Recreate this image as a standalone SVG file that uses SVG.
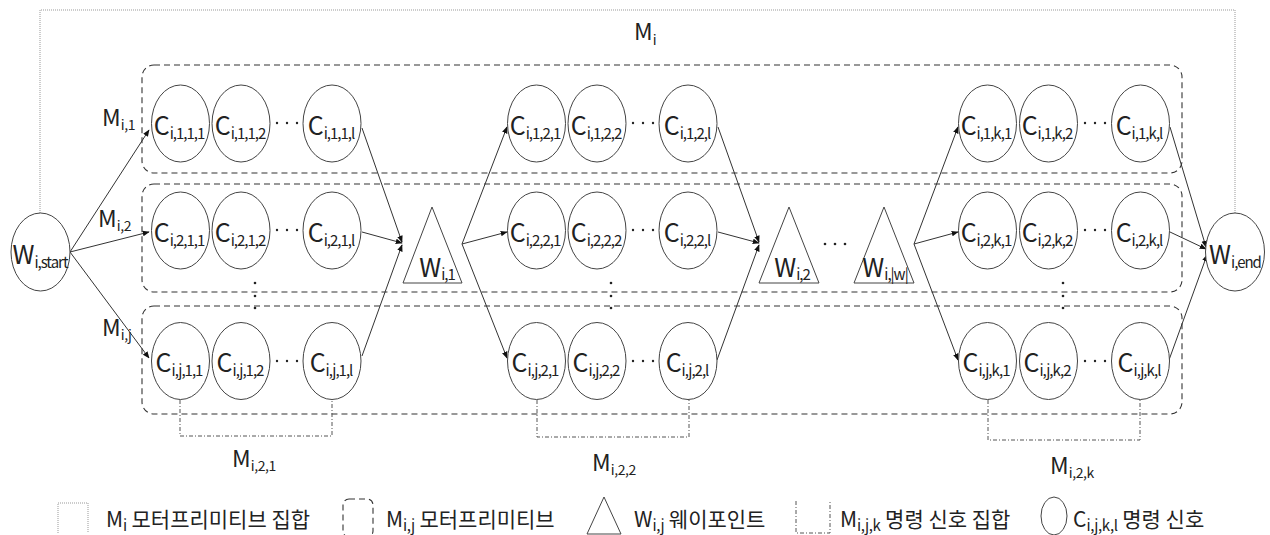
<svg xmlns="http://www.w3.org/2000/svg" width="1270" height="535" viewBox="0 0 1270 535">
<style>
.t{font-family:"Noto Sans CJK KR","Noto Sans",sans-serif;fill:#222}
.c{font-size:25px}
.s{font-size:15px;letter-spacing:-1px}
.m{font-size:23px}
.ms{font-size:14px;letter-spacing:-0.4px}
.k{font-size:21px}
.ks{font-size:15px;letter-spacing:-0.4px}
.node ellipse,.node polygon{fill:#fff;stroke:#444;stroke-width:1}
.box{fill:none;stroke:#333;stroke-width:1.1;stroke-dasharray:6 4}
.outer{fill:none;stroke:#999;stroke-width:1;stroke-dasharray:1 1}
.dd{fill:none;stroke:#555;stroke-width:1;stroke-dasharray:4 2 1 2}
.edge{stroke:#333;stroke-width:1;fill:none;marker-end:url(#ah)}
.dot{fill:#222}
</style>
<defs>
<marker id="ah" viewBox="0 0 10 10" refX="9" refY="5" markerWidth="7" markerHeight="7" markerUnits="userSpaceOnUse" orient="auto">
<path d="M0,1 L10,5 L0,9 z" fill="#111"/>
</marker>
</defs>
<rect width="1270" height="535" fill="#fff"/>

<!-- outer M_i -->
<g id="Mi">
<path class="outer" d="M40,213 V10 H1235 V213"/>
<text class="t m" x="634" y="40">M<tspan class="ms" dy="5">i</tspan></text>
</g>

<!-- M_i,j boxes -->
<g id="boxes">
<rect class="box" x="142" y="65" width="1040" height="108" rx="12"/>
<rect class="box" x="142" y="184" width="1040" height="108" rx="12"/>
<rect class="box" x="142" y="306" width="1040" height="108" rx="12"/>
</g>

<!-- connectors -->
<g id="connectors">
<line class="edge" x1="70" y1="252" x2="149" y2="130"/>
<line class="edge" x1="70" y1="252" x2="149" y2="232"/>
<line class="edge" x1="70" y1="252" x2="149" y2="358"/>
<line class="edge" x1="362" y1="128" x2="402" y2="242"/>
<line class="edge" x1="362" y1="232" x2="402" y2="243"/>
<line class="edge" x1="362" y1="356" x2="402" y2="245"/>
<line class="edge" x1="462" y1="244" x2="507" y2="127"/>
<line class="edge" x1="462" y1="244" x2="507" y2="232"/>
<line class="edge" x1="462" y1="244" x2="507" y2="358"/>
<line class="edge" x1="718" y1="127" x2="759" y2="242"/>
<line class="edge" x1="718" y1="232" x2="759" y2="243"/>
<line class="edge" x1="717" y1="360" x2="759" y2="245"/>
<line class="edge" x1="914" y1="244" x2="958" y2="127"/>
<line class="edge" x1="914" y1="244" x2="958" y2="232"/>
<line class="edge" x1="914" y1="244" x2="958" y2="360"/>
<line class="edge" x1="1170" y1="127" x2="1206" y2="247"/>
<line class="edge" x1="1170" y1="232" x2="1206" y2="249"/>
<line class="edge" x1="1169" y1="360" x2="1207" y2="255"/>
</g>

<!-- waypoints -->
<g id="W_start" class="node">
<ellipse cx="40.5" cy="252" rx="29.5" ry="39"/>
<text class="t c" x="40" y="264" text-anchor="middle">W<tspan class="s" dy="4">i,start</tspan></text>
</g>
<g id="W_end" class="node">
<ellipse cx="1235" cy="252" rx="29.5" ry="39"/>
<text class="t c" x="1235" y="264" text-anchor="middle">W<tspan class="s" dy="4">i,end</tspan></text>
</g>
<g id="W_1" class="node">
<polygon points="432,207 462,283 403,283"/>
<text class="t c" x="437" y="277" text-anchor="middle">W<tspan class="s" dy="3">i,1</tspan></text>
</g>
<g id="W_2" class="node">
<polygon points="789,207 819,283 759,283"/>
<text class="t c" x="792" y="277" text-anchor="middle">W<tspan class="s" dy="3">i,2</tspan></text>
</g>
<g id="W_w" class="node">
<polygon points="884,207 914,283 854,283"/>
<text class="t c" x="885" y="277" text-anchor="middle">W<tspan class="s" dy="3">i,|w|</tspan></text>
</g>
<g id="wdots">
<circle class="dot" cx="825" cy="244" r="1.3"/>
<circle class="dot" cx="835" cy="244" r="1.3"/>
<circle class="dot" cx="845" cy="244" r="1.3"/>
</g>

<!-- group 1 -->
<g id="C_i11_1" class="node"><ellipse cx="180.5" cy="123.5" rx="29" ry="38.5"/><text class="t c" x="179" y="135" text-anchor="middle">C<tspan class="s" dy="4">i,1,1,1</tspan></text></g>
<g id="C_i11_2" class="node"><ellipse cx="241" cy="123.5" rx="29" ry="38.5"/><text class="t c" x="240" y="135" text-anchor="middle">C<tspan class="s" dy="4">i,1,1,2</tspan></text></g>
<g id="C_i11_l" class="node"><ellipse cx="332" cy="123.5" rx="29" ry="38.5"/><text class="t c" x="331" y="135" text-anchor="middle">C<tspan class="s" dy="4">i,1,1,l</tspan></text></g>
<g id="C_i21_1" class="node"><ellipse cx="180.5" cy="230.5" rx="29" ry="38.5"/><text class="t c" x="179" y="242" text-anchor="middle">C<tspan class="s" dy="4">i,2,1,1</tspan></text></g>
<g id="C_i21_2" class="node"><ellipse cx="241" cy="230.5" rx="29" ry="38.5"/><text class="t c" x="240" y="242" text-anchor="middle">C<tspan class="s" dy="4">i,2,1,2</tspan></text></g>
<g id="C_i21_l" class="node"><ellipse cx="332" cy="230.5" rx="29" ry="38.5"/><text class="t c" x="331" y="242" text-anchor="middle">C<tspan class="s" dy="4">i,2,1,l</tspan></text></g>
<g id="C_ij1_1" class="node"><ellipse cx="180.5" cy="361" rx="29" ry="38.5"/><text class="t c" x="179" y="372" text-anchor="middle">C<tspan class="s" dy="4">i,j,1,1</tspan></text></g>
<g id="C_ij1_2" class="node"><ellipse cx="241" cy="361" rx="29" ry="38.5"/><text class="t c" x="240" y="372" text-anchor="middle">C<tspan class="s" dy="4">i,j,1,2</tspan></text></g>
<g id="C_ij1_l" class="node"><ellipse cx="332" cy="361" rx="29" ry="38.5"/><text class="t c" x="331" y="372" text-anchor="middle">C<tspan class="s" dy="4">i,j,1,l</tspan></text></g>

<!-- group 2 -->
<g id="C_i12_1" class="node"><ellipse cx="536.5" cy="123.5" rx="29" ry="38.5"/><text class="t c" x="535" y="135" text-anchor="middle">C<tspan class="s" dy="4">i,1,2,1</tspan></text></g>
<g id="C_i12_2" class="node"><ellipse cx="597" cy="123.5" rx="29" ry="38.5"/><text class="t c" x="596" y="135" text-anchor="middle">C<tspan class="s" dy="4">i,1,2,2</tspan></text></g>
<g id="C_i12_l" class="node"><ellipse cx="688" cy="123.5" rx="29" ry="38.5"/><text class="t c" x="687" y="135" text-anchor="middle">C<tspan class="s" dy="4">i,1,2,l</tspan></text></g>
<g id="C_i22_1" class="node"><ellipse cx="536.5" cy="230.5" rx="29" ry="38.5"/><text class="t c" x="535" y="242" text-anchor="middle">C<tspan class="s" dy="4">i,2,2,1</tspan></text></g>
<g id="C_i22_2" class="node"><ellipse cx="597" cy="230.5" rx="29" ry="38.5"/><text class="t c" x="596" y="242" text-anchor="middle">C<tspan class="s" dy="4">i,2,2,2</tspan></text></g>
<g id="C_i22_l" class="node"><ellipse cx="688" cy="230.5" rx="29" ry="38.5"/><text class="t c" x="687" y="242" text-anchor="middle">C<tspan class="s" dy="4">i,2,2,l</tspan></text></g>
<g id="C_ij2_1" class="node"><ellipse cx="536.5" cy="361" rx="29" ry="38.5"/><text class="t c" x="535" y="372" text-anchor="middle">C<tspan class="s" dy="4">i,j,2,1</tspan></text></g>
<g id="C_ij2_2" class="node"><ellipse cx="597" cy="361" rx="29" ry="38.5"/><text class="t c" x="596" y="372" text-anchor="middle">C<tspan class="s" dy="4">i,j,2,2</tspan></text></g>
<g id="C_ij2_l" class="node"><ellipse cx="688" cy="361" rx="29" ry="38.5"/><text class="t c" x="687" y="372" text-anchor="middle">C<tspan class="s" dy="4">i,j,2,l</tspan></text></g>

<!-- group 3 -->
<g id="C_i1k_1" class="node"><ellipse cx="987.5" cy="123.5" rx="29" ry="38.5"/><text class="t c" x="986" y="135" text-anchor="middle">C<tspan class="s" dy="4">i,1,k,1</tspan></text></g>
<g id="C_i1k_2" class="node"><ellipse cx="1048.5" cy="123.5" rx="29" ry="38.5"/><text class="t c" x="1047" y="135" text-anchor="middle">C<tspan class="s" dy="4">i,1,k,2</tspan></text></g>
<g id="C_i1k_l" class="node"><ellipse cx="1140.5" cy="123.5" rx="29" ry="38.5"/><text class="t c" x="1139" y="135" text-anchor="middle">C<tspan class="s" dy="4">i,1,k,l</tspan></text></g>
<g id="C_i2k_1" class="node"><ellipse cx="987.5" cy="230.5" rx="29" ry="38.5"/><text class="t c" x="986" y="242" text-anchor="middle">C<tspan class="s" dy="4">i,2,k,1</tspan></text></g>
<g id="C_i2k_2" class="node"><ellipse cx="1048.5" cy="230.5" rx="29" ry="38.5"/><text class="t c" x="1047" y="242" text-anchor="middle">C<tspan class="s" dy="4">i,2,k,2</tspan></text></g>
<g id="C_i2k_l" class="node"><ellipse cx="1140.5" cy="230.5" rx="29" ry="38.5"/><text class="t c" x="1139" y="242" text-anchor="middle">C<tspan class="s" dy="4">i,2,k,l</tspan></text></g>
<g id="C_ijk_1" class="node"><ellipse cx="987.5" cy="361" rx="29" ry="38.5"/><text class="t c" x="986" y="372" text-anchor="middle">C<tspan class="s" dy="4">i,j,k,1</tspan></text></g>
<g id="C_ijk_2" class="node"><ellipse cx="1048.5" cy="361" rx="29" ry="38.5"/><text class="t c" x="1047" y="372" text-anchor="middle">C<tspan class="s" dy="4">i,j,k,2</tspan></text></g>
<g id="C_ijk_l" class="node"><ellipse cx="1140.5" cy="361" rx="29" ry="38.5"/><text class="t c" x="1139" y="372" text-anchor="middle">C<tspan class="s" dy="4">i,j,k,l</tspan></text></g>

<!-- ellipsis dots -->
<g id="dots">
<circle class="dot" cx="277" cy="123" r="1.2"/><circle class="dot" cx="287" cy="123" r="1.2"/><circle class="dot" cx="297" cy="123" r="1.2"/>
<circle class="dot" cx="277" cy="230" r="1.2"/><circle class="dot" cx="287" cy="230" r="1.2"/><circle class="dot" cx="297" cy="230" r="1.2"/>
<circle class="dot" cx="277" cy="361" r="1.2"/><circle class="dot" cx="287" cy="361" r="1.2"/><circle class="dot" cx="297" cy="361" r="1.2"/>
<circle class="dot" cx="633" cy="123" r="1.2"/><circle class="dot" cx="643" cy="123" r="1.2"/><circle class="dot" cx="653" cy="123" r="1.2"/>
<circle class="dot" cx="633" cy="230" r="1.2"/><circle class="dot" cx="643" cy="230" r="1.2"/><circle class="dot" cx="653" cy="230" r="1.2"/>
<circle class="dot" cx="633" cy="361" r="1.2"/><circle class="dot" cx="643" cy="361" r="1.2"/><circle class="dot" cx="653" cy="361" r="1.2"/>
<circle class="dot" cx="1085" cy="123" r="1.2"/><circle class="dot" cx="1095" cy="123" r="1.2"/><circle class="dot" cx="1105" cy="123" r="1.2"/>
<circle class="dot" cx="1085" cy="230" r="1.2"/><circle class="dot" cx="1095" cy="230" r="1.2"/><circle class="dot" cx="1105" cy="230" r="1.2"/>
<circle class="dot" cx="1085" cy="361" r="1.2"/><circle class="dot" cx="1095" cy="361" r="1.2"/><circle class="dot" cx="1105" cy="361" r="1.2"/>
<circle class="dot" cx="255" cy="283" r="1.3"/><circle class="dot" cx="255" cy="296" r="1.3"/><circle class="dot" cx="255" cy="308" r="1.3"/>
<circle class="dot" cx="611" cy="283" r="1.3"/><circle class="dot" cx="611" cy="296" r="1.3"/><circle class="dot" cx="611" cy="308" r="1.3"/>
<circle class="dot" cx="1063" cy="283" r="1.3"/><circle class="dot" cx="1063" cy="296" r="1.3"/><circle class="dot" cx="1063" cy="308" r="1.3"/>
</g>

<!-- M_i,j labels -->
<g id="Mlabels">
<text class="t m" x="102" y="126">M<tspan class="ms" dy="4">i,1</tspan></text>
<text class="t m" x="98" y="227">M<tspan class="ms" dy="4">i,2</tspan></text>
<text class="t m" x="102" y="336">M<tspan class="ms" dy="4">i,j</tspan></text>
</g>

<!-- M_i,j,k brackets -->
<g id="Mijk1"><path class="dd" d="M180,400 V436 H332 V400"/><text class="t m" x="232" y="467">M<tspan class="ms" dy="4">i,2,1</tspan></text></g>
<g id="Mijk2"><path class="dd" d="M537,400 V437 H689 V400"/><text class="t m" x="592" y="471">M<tspan class="ms" dy="4">i,2,2</tspan></text></g>
<g id="Mijkk"><path class="dd" d="M988,400 V440 H1140 V400"/><text class="t m" x="1050" y="474">M<tspan class="ms" dy="4">i,2,k</tspan></text></g>

<!-- legend -->
<g id="legend">
<path class="outer" d="M58,533 V503 H88 V533"/>
<text class="t k" x="106" y="527">M<tspan class="ks" dy="4">i</tspan><tspan dy="-4"> 모터프리미티브 집합</tspan></text>
<rect class="box" x="343" y="499" width="30" height="38" rx="6" stroke-dasharray="4 3"/>
<text class="t k" x="386" y="527">M<tspan class="ks" dy="4">i,j</tspan><tspan dy="-4"> 모터프리미티브</tspan></text>
<polygon points="604,497 621,534 587,534" fill="#fff" stroke="#444" stroke-width="1"/>
<text class="t k" x="634" y="527">W<tspan class="ks" dy="4">i,j</tspan><tspan dy="-4"> 웨이포인트</tspan></text>
<path class="dd" d="M796,501 V533 H830 V501"/>
<text class="t k" x="840" y="527">M<tspan class="ks" dy="4">i,j,k</tspan><tspan dy="-4"> 명령 신호 집합</tspan></text>
<ellipse cx="1054" cy="516" rx="13" ry="19" fill="#fff" stroke="#444" stroke-width="1"/>
<text class="t k" x="1073" y="527">C<tspan class="ks" dy="4">i,j,k,l</tspan><tspan dy="-4"> 명령 신호</tspan></text>
</g>
</svg>
